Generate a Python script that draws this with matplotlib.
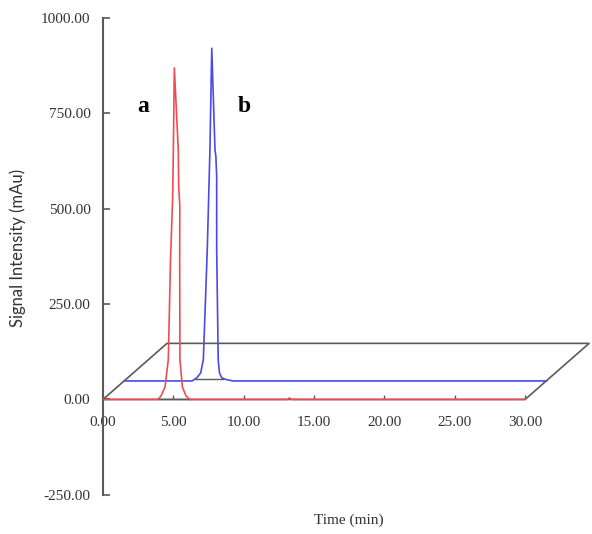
import numpy as np
import matplotlib.pyplot as plt

# chromatogram a (front trace), time in min / signal in mAu
t_a = [0, 3.90, 4.12, 4.41, 4.64, 4.80, 4.95, 5.00, 5.07, 5.35, 5.38, 5.46,
       5.45, 5.47, 5.64, 5.90, 6.18, 13.10, 13.25, 13.40, 30]
i_a = [0, 0, 9, 33, 104, 366, 528, 654, 869, 654, 560, 505,
       366, 104, 33, 9, 0, 0, 4, 0, 0]

# chromatogram b (second trace, drawn further back)
t_b = [0, 4.81, 5.14, 5.42, 5.61, 5.89, 6.08, 6.21, 6.44, 6.50, 6.56,
       6.56, 6.67, 6.76, 6.92, 7.30, 7.72, 30]
i_b = [0, 0, 8, 21, 55, 343, 605, 872, 605, 590, 536,
       343, 55, 21, 8, 3, 0, 0]

# integration baselines under the peaks
base_a = [3.90, 6.18]
base_b = [5.02, 7.01]

x_ticks = [0, 5, 10, 15, 20, 25, 30]
y_ticks = [-250, 0, 250, 500, 750, 1000]

# pseudo 3d offsets
depth = (4.55, 147)
off_b = (1.52, 48.5)

fig = plt.figure(figsize=(5.92, 5.34), dpi=100)
ax = fig.add_axes([103 / 592, 0.0519, 489 / 592, 0.936])
ax.set_xlim(0, 489 / 14.07)
ax.set_ylim(-280, 1030)

gray = '#5a5a5a'

# floor of the 3d box
px = [0, 30, 30 + depth[0], depth[0], 0]
py = [0, 0, depth[1], depth[1], 0]
ax.plot(px, py, color=gray, lw=1.2, clip_on=False, zorder=1)

ax.plot(np.array(t_b) + off_b[0], np.array(i_b) + off_b[1],
        color='#4a4ae6', lw=1.2, zorder=2, clip_on=False)
ax.plot(np.array(base_b) + off_b[0], [off_b[1] + 5] * 2, color=gray, lw=1.0, zorder=3)

ax.plot(t_a, i_a, color='#ee4c55', lw=1.2, zorder=4)
ax.plot(base_a, [2, 2], color=gray, lw=1.0, zorder=3)

ax.text(2.84, 753, 'a', fontsize=17, fontweight='bold', family='Liberation Serif',
        ha='center', va='baseline')
ax.text(10.02, 753, 'b', fontsize=17, fontweight='bold', family='Liberation Serif',
        ha='center', va='baseline')

for s in ['top', 'right']:
    ax.spines[s].set_visible(False)
ax.spines['bottom'].set_position(('data', 0))
ax.spines['bottom'].set_color('none')
ax.spines['left'].set_bounds(-250, 1000)
ax.spines['left'].set_color(gray)
ax.spines['left'].set_linewidth(1.5)

ax.set_xticks(x_ticks)
ax.set_xticklabels(['%.2f' % v for v in x_ticks])
ax.set_yticks(y_ticks)
ax.set_yticklabels(['%.2f' % v for v in y_ticks])
ax.tick_params(axis='x', direction='in', length=3, width=1, color=gray, pad=12)
ax.tick_params(axis='y', direction='in', length=5, width=1.2, color=gray, pad=9)
for lab in ax.get_xticklabels() + ax.get_yticklabels():
    lab.set_family('Liberation Serif')
    lab.set_fontsize(11)
    lab.set_color('#333333')

fig.text(349 / 592, 1 - 520 / 534, 'Time (min)', family='Liberation Serif',
         fontsize=11, color='#333333', ha='center', va='center')
fig.text(18 / 592, 1 - 248 / 534, 'Signal Intensity (mAu)', family='Lato',
         fontsize=12, color='#333333', ha='center', va='center', rotation=90)

fig.savefig('out.png', dpi=100)
